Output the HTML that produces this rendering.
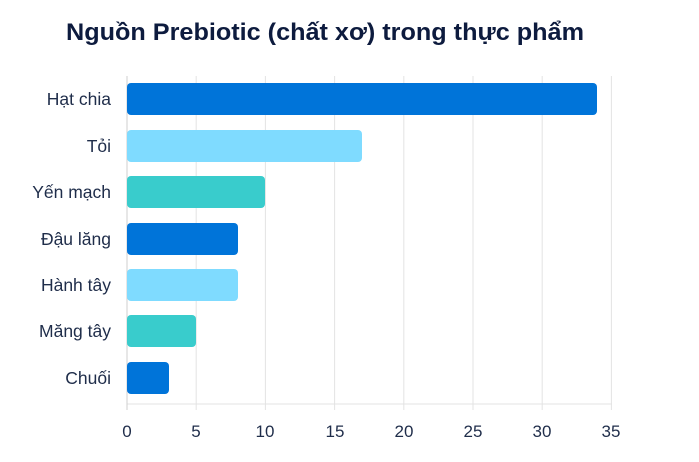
<!DOCTYPE html>
<html><head><meta charset="utf-8"><style>
body{margin:0;background:#fff;width:699px;height:457px;overflow:hidden;font-family:"Liberation Sans",sans-serif}
</style></head><body>
<svg width="699" height="457" xmlns="http://www.w3.org/2000/svg" font-family="Liberation Sans, sans-serif">
<text x="325" y="40" text-anchor="middle" font-size="24" font-weight="bold" fill="#0d1b3e" textLength="518" lengthAdjust="spacingAndGlyphs">Nguồn Prebiotic (chất xơ) trong thực phẩm</text>
<g stroke="#e3e3e3" stroke-width="1">
<line x1="196.2" y1="76" x2="196.2" y2="410"/><line x1="265.4" y1="76" x2="265.4" y2="410"/>
<line x1="334.6" y1="76" x2="334.6" y2="410"/><line x1="403.8" y1="76" x2="403.8" y2="410"/>
<line x1="473" y1="76" x2="473" y2="410"/><line x1="542.2" y1="76" x2="542.2" y2="410"/>
<line x1="611.4" y1="76" x2="611.4" y2="410"/>
<line x1="127" y1="404" x2="612" y2="404"/>
</g>
<line x1="127" y1="76" x2="127" y2="410" stroke="#cfcfcf"/>
<g>
<rect x="127" y="83" width="470" height="32" rx="4" fill="#0074d9"/>
<rect x="127" y="130" width="235" height="32" rx="4" fill="#7fdbff"/>
<rect x="127" y="176" width="138" height="32" rx="4" fill="#39cccc"/>
<rect x="127" y="223" width="111" height="32" rx="4" fill="#0074d9"/>
<rect x="127" y="269" width="111" height="32" rx="4" fill="#7fdbff"/>
<rect x="127" y="315" width="69" height="32" rx="4" fill="#39cccc"/>
<rect x="127" y="362" width="42" height="32" rx="4" fill="#0074d9"/>
</g>
<g font-size="17.5" fill="#1f2d4a" text-anchor="end">
<text x="111" y="105">Hạt chia</text><text x="111" y="152">Tỏi</text>
<text x="111" y="198">Yến mạch</text><text x="111" y="245">Đậu lăng</text>
<text x="111" y="291">Hành tây</text><text x="111" y="337">Măng tây</text>
<text x="111" y="384">Chuối</text>
</g>
<g font-size="17" fill="#1f2d4a" text-anchor="middle">
<text x="127" y="437">0</text><text x="196" y="437">5</text><text x="265" y="437">10</text>
<text x="335" y="437">15</text><text x="404" y="437">20</text><text x="473" y="437">25</text>
<text x="542" y="437">30</text><text x="611" y="437">35</text>
</g>
</svg>
</body></html>
